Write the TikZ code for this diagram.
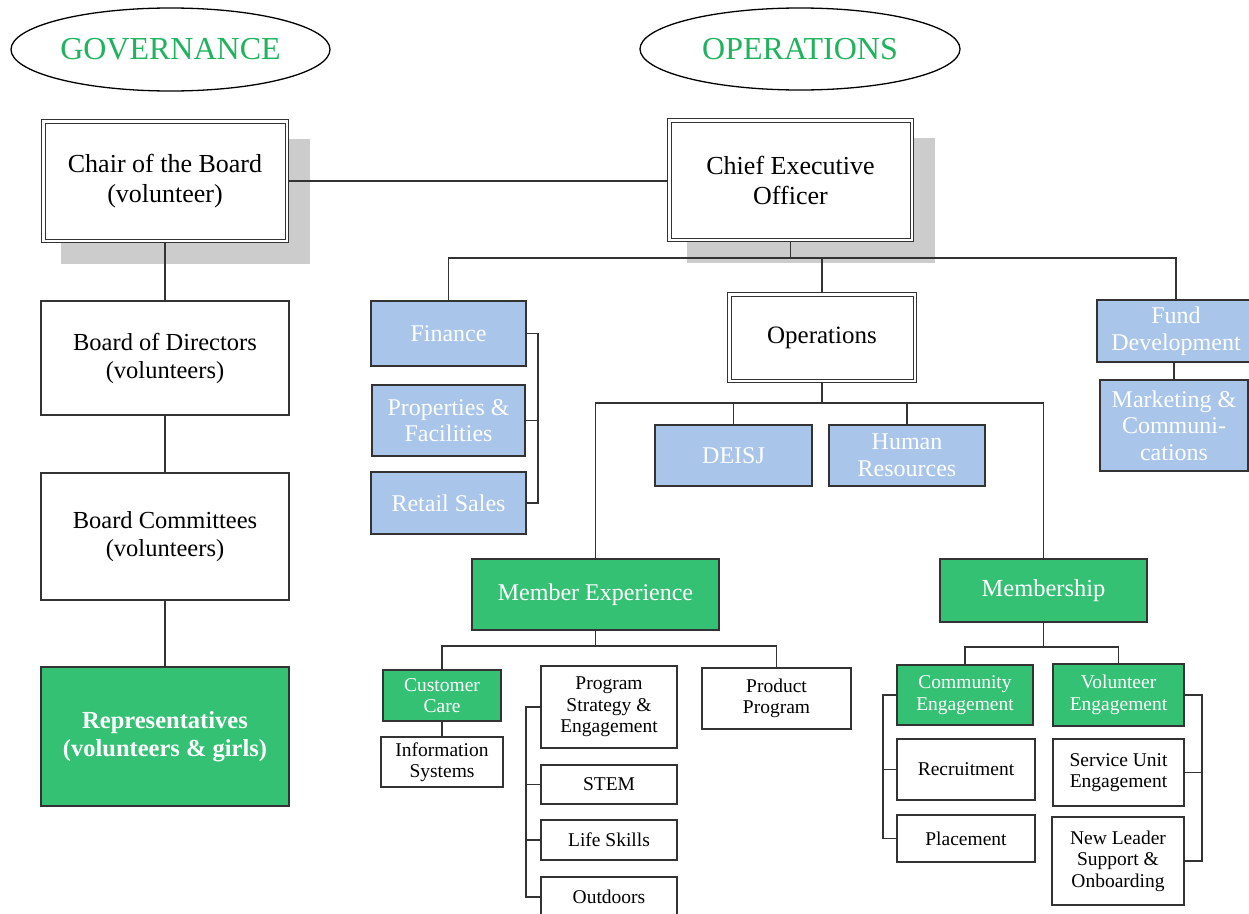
\documentclass[tikz,border=0pt]{standalone}
\usepackage{fontspec}
\setmainfont{Liberation Serif}
\usetikzlibrary{shapes.geometric,calc,backgrounds}
\definecolor{bluefill}{HTML}{A9C5EA}
\definecolor{greenfill}{HTML}{35C174}
\definecolor{titlegreen}{HTML}{1FB35D}
\definecolor{linegray}{HTML}{333333}
\definecolor{shadowgray}{HTML}{CCCCCC}
\tikzset{
  conn/.style={draw=linegray, line width=1.2pt},
  base/.style={draw=linegray, line width=1.2pt, inner sep=0pt, outer sep=0pt, align=center, text=black},
  plainbox/.style={base, fill=white},
  dblbox/.style={base, fill=white, double, double distance=2.5pt, line width=1pt},
  bluebox/.style={base, fill=bluefill, text=white, font=\fontsize{24}{26.5}\selectfont},
  greenbox/.style={base, fill=greenfill, text=white},
  titleell/.style={ellipse, draw=black, line width=1.3pt, inner sep=0pt, text=titlegreen, font=\fontsize{32}{36}\selectfont},
  bigtxt/.style={font=\fontsize{26}{30}\selectfont},
  midtxt/.style={font=\fontsize{24.5}{28}\selectfont},
  smalltxt/.style={font=\fontsize{19.5}{21.5}\selectfont},
}
\begin{document}
\begin{tikzpicture}[x=1pt,y=-1pt]
\useasboundingbox (0,0) rectangle (1249,913);
% titles
\node[titleell, minimum width=319, minimum height=83] (gov) at (170.5,49.5) {GOVERNANCE};
\node[titleell, minimum width=320, minimum height=82] (opt) at (800,49) {OPERATIONS};
% governance column
\node[dblbox, bigtxt, minimum width=243.5, minimum height=119.5] (chair) at (165,181) {Chair of the Board\\(volunteer)};
\node[plainbox, midtxt, minimum width=248, minimum height=114] (bod) at (165,358) {Board of Directors\\(volunteers)};
\node[plainbox, midtxt, minimum width=248, minimum height=127] (bc) at (165,536.5) {Board Committees\\(volunteers)};
\node[greenbox, midtxt, font=\fontsize{24.5}{28}\selectfont\bfseries, minimum width=248, minimum height=139] (rep) at (165,736.5) {Representatives\\(volunteers \& girls)};
% operations
\node[dblbox, bigtxt, minimum width=242.5, minimum height=119.5] (ceo) at (790.5,180) {Chief Executive\\Officer};
\node[dblbox, font=\fontsize{25}{28}\selectfont, minimum width=185.5, minimum height=86.5] (ops) at (822,337.5) {Operations};
\node[bluebox, minimum width=155, minimum height=65] (fin) at (448.5,333.5) {Finance};
\node[bluebox, minimum width=153, minimum height=71] (prop) at (448.5,420.5) {Properties \&\\Facilities};
\node[bluebox, minimum width=155, minimum height=62] (retail) at (448.5,503) {Retail Sales};
\node[bluebox, minimum width=158, minimum height=62] (fund) at (1176,331) {Fund\\Development};
\node[bluebox, minimum width=148, minimum height=91] (mkt) at (1174,425.5) {Marketing \&\\Communi-\\cations};
\node[bluebox, minimum width=157, minimum height=61] (deisj) at (733.5,455.5) {DEISJ};
\node[bluebox, minimum width=156, minimum height=61] (hr) at (907,455.5) {Human\\Resources};
\node[greenbox, font=\fontsize{24}{27}\selectfont, minimum width=247, minimum height=71] (me) at (595.5,594.5) {Member Experience};
\node[greenbox, font=\fontsize{24.5}{27}\selectfont, minimum width=207, minimum height=63] (mem) at (1043.5,590.5) {Membership};
% member experience subtree
\node[greenbox, smalltxt, minimum width=118, minimum height=51] (cc) at (442,695.5) {Customer\\Care};
\node[plainbox, smalltxt, minimum width=122, minimum height=50] (info) at (442,762) {Information\\Systems};
\node[plainbox, smalltxt, minimum width=136, minimum height=82] (pse) at (609,707) {Program\\Strategy \&\\Engagement};
\node[plainbox, smalltxt, minimum width=136, minimum height=39] (stem) at (609,784.5) {STEM};
\node[plainbox, smalltxt, minimum width=136, minimum height=40] (life) at (609,840) {Life Skills};
\node[plainbox, smalltxt, minimum width=136, minimum height=40] (out) at (609,897) {Outdoors};
\node[plainbox, smalltxt, minimum width=149, minimum height=61] (prod) at (776.5,698.5) {Product\\Program};
% membership subtree
\node[greenbox, smalltxt, minimum width=136, minimum height=60] (ce) at (965,695) {Community\\Engagement};
\node[greenbox, smalltxt, minimum width=131, minimum height=62] (ve) at (1118.5,695) {Volunteer\\Engagement};
\node[plainbox, smalltxt, minimum width=138, minimum height=61] (rec) at (966,769.5) {Recruitment};
\node[plainbox, smalltxt, minimum width=138, minimum height=47] (pla) at (966,838.5) {Placement};
\node[plainbox, smalltxt, minimum width=131, minimum height=67] (su) at (1118.5,772.5) {Service Unit\\Engagement};
\node[plainbox, smalltxt, minimum width=132, minimum height=88] (nl) at (1118,861) {New Leader\\Support \&\\Onboarding};
% shadows
\begin{scope}[on background layer]
\fill[white] (0,0) rectangle (1249,913);
\fill[shadowgray] ($(chair.north west)+(18,18)$) rectangle ($(chair.south east)+(23,23)$);
\fill[shadowgray] ($(ceo.north west)+(18,18)$) rectangle ($(ceo.south east)+(23,23)$);
\end{scope}
% junction coordinates
\coordinate (ceoJ) at (790.5,258);
\coordinate (opsJ) at (822,403);
\coordinate (finB) at (538,333.5);
\coordinate (meJ) at (595.5,646);
\coordinate (memJ) at (1043.5,647);
\coordinate (pB) at (526,707);
\coordinate (ceB) at (883,695);
\coordinate (veB) at (1202,695);
% connectors
\begin{scope}[on background layer]
\draw[conn] (chair.east) -- (ceo.west |- chair.east);
\draw[conn] (chair) -- (bod);
\draw[conn] (bod) -- (bc);
\draw[conn] (bc) -- (rep);
\draw[conn] (ceo.south) -- (ceoJ);
\draw[conn] (fin.north) |- (fund.north |- ceoJ) -- (fund.north);
\draw[conn] (ops.north) -- (ops.north |- ceoJ);
\draw[conn] (fin.east) -- (finB) |- (retail.east);
\draw[conn] (prop.east) -- (prop.east -| finB);
\draw[conn] (mkt.north) -- (mkt.north |- fund.south);
\draw[conn] (ops.south) -- (opsJ);
\draw[conn] (me.north) |- (opsJ) -| (mem.north);
\draw[conn] (deisj.north) -- (deisj.north |- opsJ);
\draw[conn] (hr.north) -- (hr.north |- opsJ);
\draw[conn] (me.south) -- (meJ);
\draw[conn] (cc.north) |- (meJ) -| (prod.north);
\draw[conn] (cc) -- (info);
\draw[conn] (pse.west) -- (pB) |- (out.west);
\draw[conn] (stem.west) -- (stem.west -| pB);
\draw[conn] (life.west) -- (life.west -| pB);
\draw[conn] (mem.south) -- (memJ);
\draw[conn] (ce.north) |- (memJ) -| (ve.north);
\draw[conn] (ce.west) -- (ceB) |- (pla.west);
\draw[conn] (rec.west) -- (rec.west -| ceB);
\draw[conn] (ve.east) -- (veB) |- (nl.east);
\draw[conn] (su.east) -- (su.east -| veB);
\end{scope}
\end{tikzpicture}
\end{document}
